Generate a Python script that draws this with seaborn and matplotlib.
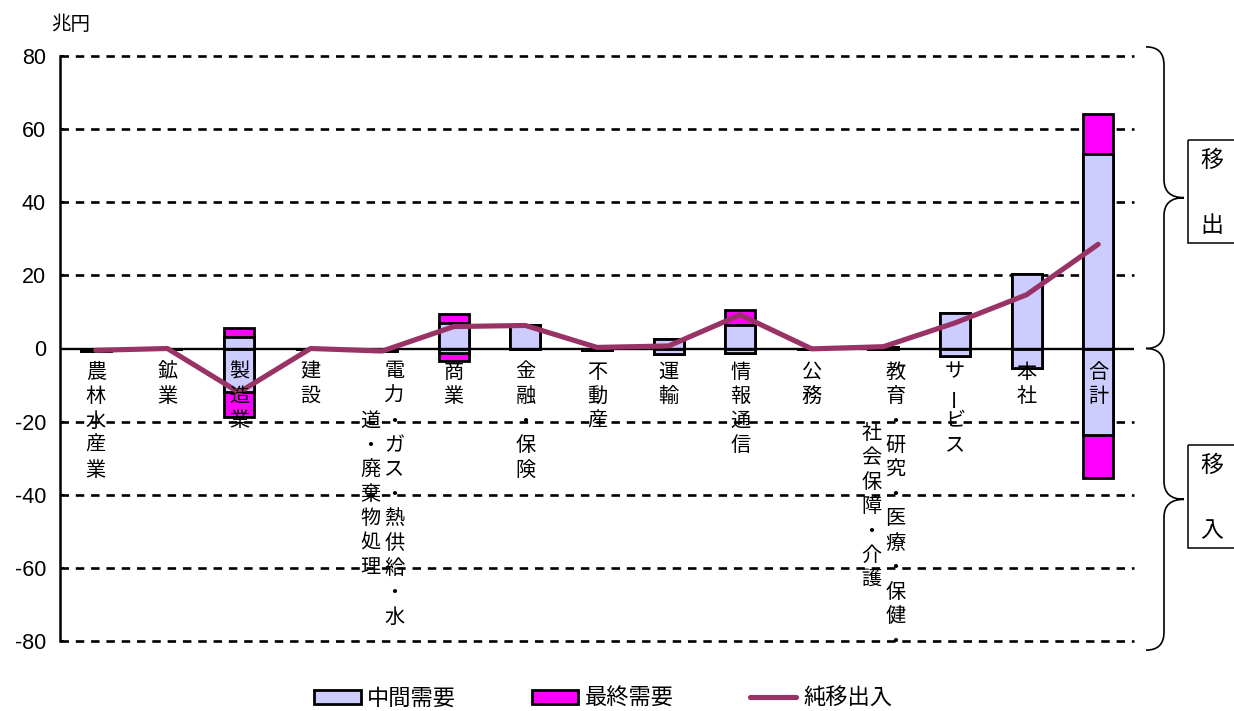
import numpy as np
import pandas as pd
import matplotlib
matplotlib.use("Agg")
import matplotlib.pyplot as plt
import seaborn as sns
from matplotlib.patches import Patch, Rectangle, PathPatch
from matplotlib.lines import Line2D
from matplotlib.path import Path

# ---- data (兆円) ----
categories = ["農林水産業", "鉱業", "製造業", "建設",
              "電力・ガス・熱供給・水道・廃棄物処理", "商業", "金融・保険",
              "不動産", "運輸", "情報通信", "公務",
              "教育・研究・医療・保健・社会保障・介護", "サービス", "本社", "合計"]
# vertical label columns (right-most column first)
label_columns = [["農林水産業"], ["鉱業"], ["製造業"], ["建設"],
                 ["電力・ガス・熱供給・水", "道・廃棄物処理"], ["商業"], ["金融・保険"],
                 ["不動産"], ["運輸"], ["情報通信"], ["公務"],
                 ["教育・研究・医療・保健・", "社会保障・介護"], ["サービス"], ["本社"], ["合計"]]
mid_pos = [0.0, 0.0, 3.2, 0.0, 0.0, 6.9, 6.4, 0.0, 2.5, 6.4, 0.0, 0.5, 9.6, 20.3, 53.2]
fin_pos = [0.0, 0.0, 2.3, 0.0, 0.0, 2.45, 0.0, 0.0, 0.0, 4.1, 0.0, 0.0, 0.0, 0.0, 10.9]
mid_neg = [-0.6, 0.0, -11.8, 0.0, -0.6, -1.3, 0.0, -0.3, -1.5, -1.3, 0.0, 0.0, -2.1, -5.4, -23.7]
fin_neg = [0.0, 0.0, -6.8, 0.0, 0.0, -2.0, 0.0, 0.0, 0.0, 0.0, 0.0, 0.0, 0.0, 0.0, -11.8]
net = [-0.5, 0.0, -12.0, 0.0, -0.7, 6.0, 6.3, 0.3, 0.7, 9.2, -0.1, 0.5, 7.0, 14.7, 28.5]
y_ticks = [80, 60, 40, 20, 0, -20, -40, -60, -80]
legend_labels = ["中間需要", "最終需要", "純移出入"]

MID_COLOR = "#CCCCFF"
FIN_COLOR = "#FF00FF"
NET_COLOR = "#993366"

sns.set_theme(style="white")
plt.rcParams["font.family"] = ["Liberation Sans", "Noto Sans CJK JP", "DejaVu Sans"]
plt.rcParams["text.color"] = "black"
plt.rcParams["ytick.labelcolor"] = "black"

df = pd.DataFrame({"category": categories, "mid_pos": mid_pos, "fin_pos": fin_pos,
                   "mid_neg": mid_neg, "fin_neg": fin_neg})
df["pos_total"] = df["mid_pos"] + df["fin_pos"]
df["neg_total"] = df["mid_neg"] + df["fin_neg"]

W, H = 1234, 711
fig = plt.figure(figsize=(W / 100, H / 100), dpi=100)
fig.patch.set_facecolor("white")
ax = fig.add_axes([60 / W, 70 / H, 1074 / W, 585 / H])

# stacked bars: full totals (final demand) first, intermediate demand drawn over them
for col, color in [("pos_total", FIN_COLOR), ("neg_total", FIN_COLOR),
                   ("mid_pos", MID_COLOR), ("mid_neg", MID_COLOR)]:
    sns.barplot(data=df, x="category", y=col, order=categories, color=color,
                saturation=1, width=0.42, edgecolor="black", linewidth=2.0,
                errorbar=None, ax=ax, zorder=3)

# net flow line
sns.lineplot(x=np.arange(len(categories)), y=net, color=NET_COLOR, linewidth=3.7,
             ax=ax, zorder=5)

ax.set_xlim(-0.5, len(categories) - 0.5)
ax.set_ylim(-80, 80)
ax.set_xlabel("")
ax.set_ylabel("")
ax.set_xticks([])
ax.set_yticks(y_ticks)
ax.set_yticklabels([str(t) for t in y_ticks])
ax.tick_params(axis="y", direction="in", length=3, width=1.5, color="black",
               labelcolor="black", labelsize=15.5, pad=10, left=True)
for s in ["top", "right", "bottom"]:
    ax.spines[s].set_visible(False)
ax.spines["left"].set_color("black")
ax.spines["left"].set_linewidth(1.8)
ax.set_facecolor("white")

for t in y_ticks:
    if t != 0:
        ax.axhline(t, color="black", linewidth=1.9, linestyle=(0, (3.2, 2.6)),
                   zorder=1, clip_on=False)
ax.axhline(0, color="black", linewidth=1.7, zorder=4)

# vertical category labels
pt = 72 / fig.dpi
pitch = 24.5
col_gap = 24
jp = ["Noto Sans CJK JP", "DejaVu Sans"]
for i, cols in enumerate(label_columns):
    n_max = max(len(c) for c in cols)
    ncols = len(cols)
    for j, col in enumerate(cols):
        dx = ((ncols - 1) / 2 - j) * col_gap
        dy0 = 23.5 + (n_max - len(col)) / 2 * pitch
        for k, ch in enumerate(col):
            ax.annotate(ch, xy=(i, 0), xycoords="data",
                        xytext=(dx * pt, -(dy0 + k * pitch) * pt),
                        textcoords="offset points", ha="center", va="center",
                        fontsize=14.5, rotation=90 if ch == "ー" else 0,
                        family=jp, color="black", zorder=6, annotation_clip=False)

fig.text(51 / W, 1 - 25 / H, "兆円", ha="left", va="center", fontsize=14,
         family=jp, color="black")

# braces and side boxes on a pixel-space overlay
deco = fig.add_axes([0, 0, 1, 1], zorder=10)
deco.set_xlim(0, W)
deco.set_ylim(H, 0)
deco.axis("off")
deco.patch.set_alpha(0)


def brace(x0, xm, xt, ytop, ybot, r):
    ymid = (ytop + ybot) / 2
    verts = [(x0, ytop), (xm, ytop), (xm, ytop + r),
             (xm, ymid - r), (xm, ymid), (xt, ymid),
             (xm, ymid), (xm, ymid + r),
             (xm, ybot - r), (xm, ybot), (x0, ybot)]
    codes = [Path.MOVETO, Path.CURVE3, Path.CURVE3,
             Path.LINETO, Path.CURVE3, Path.CURVE3,
             Path.CURVE3, Path.CURVE3,
             Path.LINETO, Path.CURVE3, Path.CURVE3]
    return PathPatch(Path(verts, codes), facecolor="none", edgecolor="black",
                     linewidth=1.2)


def to_px(v):
    return H - ax.transData.transform((0, v))[1]


zero_px = to_px(0)
deco.add_patch(brace(1146, 1164, 1184, to_px(82.5), zero_px, 18))
deco.add_patch(brace(1146, 1164, 1184, zero_px, to_px(-82.5), 18))

for top, chars in [(140, "移出"), (445, "移入")]:
    deco.add_patch(Rectangle((1188, top), 60, 103, facecolor="none",
                             edgecolor="black", linewidth=1.1, clip_on=False))
    deco.text(1212, top + 20, chars[0], ha="center", va="center", fontsize=16.5,
              family=jp, color="black")
    deco.text(1212, top + 86, chars[1], ha="center", va="center", fontsize=16.5,
              family=jp, color="black")

handles = [Patch(facecolor=MID_COLOR, edgecolor="black", linewidth=2.0),
           Patch(facecolor=FIN_COLOR, edgecolor="black", linewidth=2.0),
           Line2D([0], [0], color=NET_COLOR, linewidth=3.7)]
leg = fig.legend(handles, legend_labels, loc="center", bbox_to_anchor=(603 / W, 13 / H),
                 ncol=3, frameon=False, prop={"family": jp, "size": 16},
                 handlelength=2.1, handleheight=0.6, handletextpad=0.3, columnspacing=3.4)
for txt in leg.get_texts():
    txt.set_color("black")

fig.savefig("out.png", dpi=100, facecolor="white")
